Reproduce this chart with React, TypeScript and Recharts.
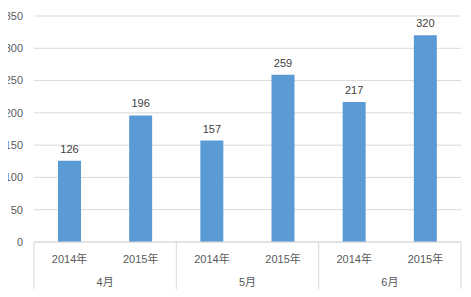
import { BarChart, Bar, XAxis, YAxis, CartesianGrid, LabelList } from 'recharts';

const years = ['2014年', '2015年', '2014年', '2015年', '2014年', '2015年'];
const months = ['4月', '4月', '5月', '5月', '6月', '6月'];
const sales = [126, 196, 157, 259, 217, 320];
const yTicks = [0, 50, 100, 150, 200, 250, 300, 350];

const data = years.map((y, i) => ({ key: `${months[i]}-${y}`, year: y, month: months[i], value: sales[i] }));

const FONT = '"Liberation Sans", "Noto Sans CJK SC", sans-serif';
const W = 471;
const H = 297;
const M = { top: 16, right: 10, left: 0, bottom: 0 };
const Y_W = 34;
const BAND = (W - M.left - M.right - Y_W) / data.length;

// Two-level category tick: year under each bar, month centred under each pair
const GroupTick = (props: any) => {
  const { x, y, payload } = props;
  const i = payload.index;
  const row = data[i];
  return (
    <g>
      <text x={x} y={y + 21} textAnchor="middle" fontSize={11} fill="#595959" fontFamily={FONT}>
        {row.year}
      </text>
      {i % 2 === 0 && (
        <>
          <line x1={x - BAND / 2} x2={x - BAND / 2} y1={y} y2={y + 50} stroke="#d9d9d9" />
          <text x={x + BAND / 2} y={y + 44} textAnchor="middle" fontSize={11} fill="#595959" fontFamily={FONT}>
            {row.month}
          </text>
        </>
      )}
      {i === data.length - 1 && (
        <line x1={x + BAND / 2} x2={x + BAND / 2} y1={y} y2={y + 50} stroke="#d9d9d9" />
      )}
    </g>
  );
};

export default function App() {
  return (
    <div style={{ margin: -8, width: W, height: H, background: '#fff' }}>
      <BarChart width={W} height={H} data={data} margin={M}>
        <CartesianGrid stroke="#d9d9d9" vertical={false} />
        <XAxis
          dataKey="key"
          interval={0}
          height={55}
          tick={<GroupTick />}
          tickLine={false}
          tickSize={0}
          tickMargin={0}
          axisLine={{ stroke: '#d9d9d9' }}
        />
        <YAxis
          width={Y_W}
          domain={[0, 350]}
          ticks={yTicks}
          interval={0}
          axisLine={false}
          tickLine={false}
          tickSize={0}
          tickMargin={11}
          tick={{ fontSize: 11, fill: '#595959', fontFamily: FONT }}
        />
        <Bar dataKey="value" fill="#5b9bd5" barSize={23} isAnimationActive={false}>
          <LabelList dataKey="value" position="top" offset={8} fontSize={11} fill="#404040" fontFamily={FONT} />
        </Bar>
      </BarChart>
    </div>
  );
}
